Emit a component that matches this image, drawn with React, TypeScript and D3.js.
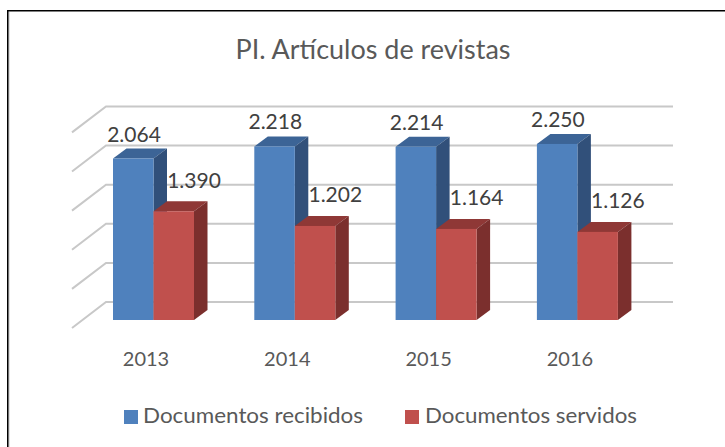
import * as d3 from "d3";

const years = ["2013", "2014", "2015", "2016"];
const recibidos = [2064, 2218, 2214, 2250];
const servidos = [1390, 1202, 1164, 1126];
const gridValues = [0, 500, 1000, 1500, 2000, 2500];
const seriesNames = ["Documentos recibidos", "Documentos servidos"];

const blue = { front: "#4f81bd", top: "#3c6496", side: "#31507a" };
const red = { front: "#c0504d", top: "#8f3836", side: "#7b2f2d" };
const font = "Lato, 'Open Sans', sans-serif";

const W = 725;
const H = 447;
const y = d3.scaleLinear().domain([0, 2500]).range([320, 124.4]);
// band step 141.3, bar pair 81 wide, first pair starts at 113
const x = d3.scaleBand().domain(years).range([82.85, 648.05]).paddingInner(60.3 / 141.3).paddingOuter(30.15 / 141.3);
const fmt = (v: number) => d3.format(",")(v).replace(",", ".");

const backX0 = 106;
const backX1 = 673;
const backUp = 18;
const wallDx = 34;
const wallDy = 26;
const depthX = 13.5;
const depthY = 10;

function Bar({ x0, w, v, c }: { x0: number; w: number; v: number; c: typeof blue }) {
  const t = y(v);
  const b = y(0);
  return (
    <g>
      <polygon
        points={`${x0},${t} ${x0 + depthX},${t - depthY} ${x0 + w + depthX},${t - depthY} ${x0 + w},${t}`}
        fill={c.top}
      />
      <polygon
        points={`${x0 + w},${t} ${x0 + w + depthX},${t - depthY} ${x0 + w + depthX},${b - depthY} ${x0 + w},${b}`}
        fill={c.side}
      />
      <rect x={x0} y={t} width={w} height={b - t} fill={c.front} />
    </g>
  );
}

export default function App() {
  const w = x.bandwidth() / 2;
  return (
    <svg
      width={W}
      height={H}
      style={{ position: "absolute", left: 0, top: 0 }}
      fontFamily={font}
    >
      <rect width={W} height={H} fill="#fff" />
      {/* only the top and left edges of the frame are in the picture */}
      <line x1={9} y1={12} x2={9} y2={H} stroke="#c4c4c4" strokeWidth={1} />
      <polyline points={`7.75,${H} 7.75,10.75 ${W},10.75`} fill="none" stroke="#000" strokeWidth={1.5} />
      <text x={373} y={59} textAnchor="middle" fontSize={26} fill="#595959" textLength={275} lengthAdjust="spacingAndGlyphs">
        PI. Artículos de revistas
      </text>

      {gridValues.map((g) => {
        const gy = y(g) - backUp;
        return (
          <polyline
            key={g}
            points={`${backX0 - wallDx},${gy + wallDy} ${backX0},${gy} ${backX1},${gy}`}
            fill="none"
            stroke="#c8c8c8"
            strokeWidth={2}
          />
        );
      })}

      {years.map((yr, i) => {
        const x0 = x(yr) as number;
        return (
          <g key={yr}>
            <Bar x0={x0} w={w} v={recibidos[i]} c={blue} />
            <Bar x0={x0 + w} w={w} v={servidos[i]} c={red} />
            <text x={x0 + 21} y={y(recibidos[i]) - 17} textAnchor="middle" fontSize={21} fill="#404040">
              {fmt(recibidos[i])}
            </text>
            <text x={x0 + 81} y={y(servidos[i]) - 23.5} textAnchor="middle" fontSize={21} fill="#404040">
              {fmt(servidos[i])}
            </text>
            <text x={x0 + 33} y={366} textAnchor="middle" fontSize={20} fill="#595959">
              {yr}
            </text>
          </g>
        );
      })}

      <rect x={124} y={410} width={14} height={14} fill={blue.front} />
      <text x={143} y={423} fontSize={21} fill="#595959" textLength={220} lengthAdjust="spacingAndGlyphs">
        {seriesNames[0]}
      </text>
      <rect x={405} y={410} width={14} height={14} fill={red.front} />
      <text x={425} y={423} fontSize={21} fill="#595959" textLength={212} lengthAdjust="spacingAndGlyphs">
        {seriesNames[1]}
      </text>
    </svg>
  );
}
